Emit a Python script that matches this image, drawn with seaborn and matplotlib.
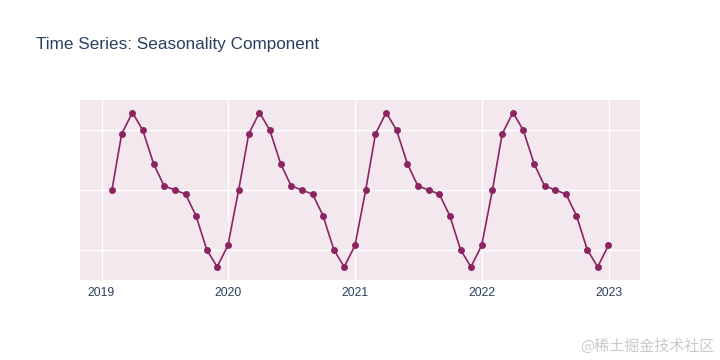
import seaborn as sns
import matplotlib.pyplot as plt
import matplotlib.dates as mdates
import pandas as pd
import numpy as np

# one seasonal cycle (Jan..Dec), repeated each year
season = [0.0, 9.4, 13.0, 10.0, 4.4, 0.7, 0.0, -0.7, -4.3, -10.0, -12.9, -9.3]
years = [2019, 2020, 2021, 2022]
tick_years = [2019, 2020, 2021, 2022, 2023]

dates = pd.date_range('2019-01-31', periods=12 * len(years), freq='ME')
values = season * len(years)
df = pd.DataFrame({'date': dates, 'seasonal': values})

sns.set_theme(style='white')
plt.rcParams['font.family'] = ['Liberation Sans', 'Noto Sans CJK SC']

fig = plt.figure(figsize=(7.2, 3.6), dpi=100)
ax = fig.add_axes([80 / 720, 1 - 280 / 360, 560 / 720, 180 / 360])
ax.set_facecolor('#f2e8ed')

sns.lineplot(data=df, x='date', y='seasonal', ax=ax, color='#8c2463',
             marker='o', markersize=5, markeredgewidth=0, linewidth=1.2)

ax.set_xlim(pd.Timestamp('2018-10-31'), pd.Timestamp('2023-04-01'))
ax.set_ylim(-15.1, 15.1)
ax.set_xticks([pd.Timestamp(f'{y}-01-01') for y in tick_years])
ax.xaxis.set_major_formatter(mdates.DateFormatter('%Y'))
ax.set_yticks([-10, 0, 10])
ax.set_yticklabels([])
ax.grid(True, color='white', linewidth=1)
ax.set_axisbelow(True)
ax.tick_params(axis='both', length=0, labelsize=8.7, colors='#2a3f5f', pad=5)
ax.set_xlabel('')
ax.set_ylabel('')
for s in ax.spines.values():
    s.set_visible(False)

fig.text(36 / 720, 1 - 45 / 360, 'Time Series: Seasonality Component',
         fontsize=12.3, color='#2a3f5f', va='center', ha='left')
fig.text(714 / 720, 1 - 346 / 360, '@稀土掘金技术社区', fontsize=10.8,
         color='#cacaca', va='center', ha='right',
         family=['Noto Sans CJK SC', 'DejaVu Sans'])

fig.savefig('out.png', dpi=100)
